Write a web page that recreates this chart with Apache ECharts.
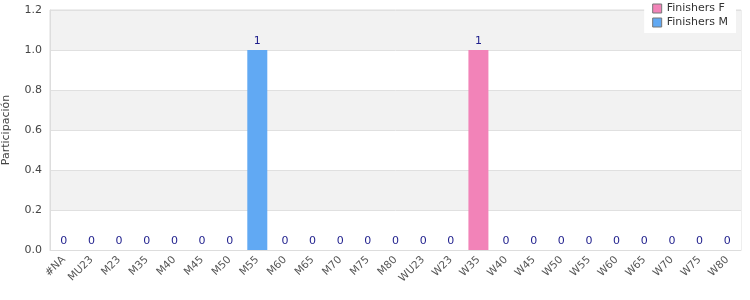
<!DOCTYPE html>
<html><head><meta charset="utf-8">
<script src="https://cdn.jsdelivr.net/npm/echarts@6/dist/echarts.min.js"></script>
<style>html,body{margin:0;padding:0;background:#fff}#c{width:750px;height:300px}</style>
</head><body><div id="c"></div>
<script>
var categories = ["#NA","MU23","M23","M35","M40","M45","M50","M55","M60","M65","M70","M75","M80","WU23","W23","W35","W40","W45","W50","W55","W60","W65","W70","W75","W80"];
var finishersF = [0,0,0,0,0,0,0,0,0,0,0,0,0,0,0,1,0,0,0,0,0,0,0,0,0];
var finishersM = [0,0,0,0,0,0,0,1,0,0,0,0,0,0,0,0,0,0,0,0,0,0,0,0,0];
var yTicks = [0,0.2,0.4,0.6,0.8,1.0,1.2];

var chart = echarts.init(document.getElementById('c'), null, {renderer:'canvas'});
chart.setOption({
  animation:false,
  textStyle:{fontFamily:'DejaVu Sans'},
  grid:{left:50,right:9,top:10,bottom:50,show:true,borderColor:'#dddddd',borderWidth:1,containLabel:false,outerBoundsMode:'none'},
  legend:{
    orient:'vertical', right:14, top:0, itemWidth:9, itemHeight:9, itemGap:3,
    icon:'rect',
    backgroundColor:'#ffffff', padding:[3,8,5,8],
    textStyle:{fontSize:11,color:'#333'},
    data:[{name:'Finishers F',itemStyle:{borderColor:'#777',borderWidth:1}},{name:'Finishers M',itemStyle:{borderColor:'#777',borderWidth:1}}]
  },
  xAxis:{
    type:'category', data:categories,
    axisLine:{lineStyle:{color:'#dddddd'}}, axisTick:{show:false},
    axisLabel:{rotate:45, interval:0, fontSize:10.5, color:'#555', margin:8}
  },
  yAxis:{
    type:'value', min:0, max:1.2, interval:0.2,
    name:'Participación', nameLocation:'middle', nameGap:38, nameRotate:90,
    nameTextStyle:{fontSize:11, color:'#444'},
    axisLine:{show:true,lineStyle:{color:'#dddddd'}},
    axisLabel:{fontSize:11,color:'#444',formatter:function(v){return v.toFixed(1);}},
    splitLine:{lineStyle:{color:'#e0e0e0'}},
    splitArea:{show:true,areaStyle:{color:['#ffffff','#f2f2f2']}}
  },
  series:[
    {name:'Finishers F', type:'bar', stack:'t', data:finishersF, barWidth:20,
     itemStyle:{color:'#f283b8', borderWidth:0}},
    {name:'Finishers M', type:'bar', stack:'t', data:finishersM, barWidth:20,
     itemStyle:{color:'#61a9f3', borderWidth:0},
     label:{show:true, position:'top', distance:3, fontSize:11, color:'#1e1e8c',
       formatter:function(p){return String(finishersF[p.dataIndex]+finishersM[p.dataIndex]);}}}
  ]
});
</script></body></html>
